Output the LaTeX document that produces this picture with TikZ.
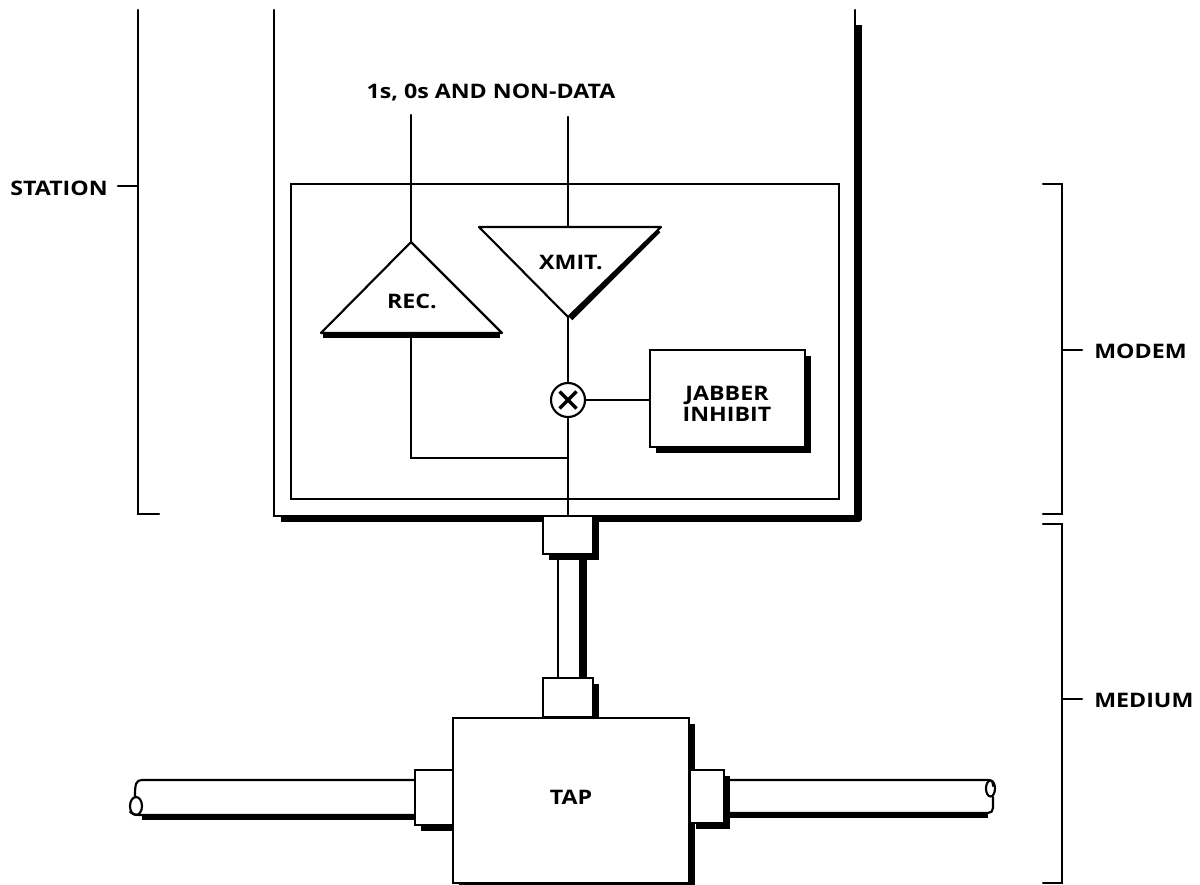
\documentclass[tikz,border=0pt]{standalone}
\usepackage{fontspec}
\setmainfont[FakeStretch=1.16]{Open Sans}
\usetikzlibrary{shadows}
\tikzset{
  wire/.style={line width=1.6pt,line cap=round},
  heavy/.style={line width=4.4pt,line join=round},
  label/.style={font=\fontsize{15}{15.75}\selectfont\bfseries,inner sep=0pt},
  shadebox/.style={draw,line width=1.6pt,fill=white,inner sep=0pt,
    drop shadow={shadow xshift=4.5pt,shadow yshift=-4.5pt,opacity=1,fill=black}}
}

\begin{document}
\begin{tikzpicture}[x=0.75pt,y=-0.75pt]
    \useasboundingbox (0,0) rectangle (1200,885);
    % station housing, open at the top
    \draw[line width=5.2pt,line join=round] (858.5,25) -- (858.5,519) -- (281,519);
    \draw[wire] (274,10) -- (274,516) -- (855,516) -- (855,10);
    \draw[wire] (291,184) rectangle (839,499);
    % brackets and their labels
    \draw[wire] (138,10) -- (138,514) -- (159,514);
    \coordinate (stationtick) at (118,186);
    \draw[wire] (stationtick) -- (138,186);
    \node[label,anchor=east] (station) at (108,188) {STATION};
    \foreach \name/\top/\bot/\mid/\txt in {
      modem/184/514/350/MODEM,
      medium/524/883/699/MEDIUM}{
      \draw[wire] (1043,\top) -- (1062,\top) -- (1062,\bot) -- (1043,\bot);
      \coordinate (\name tick) at (1082,\mid);
      \draw[wire] (1062,\mid) -- (\name tick);
      \node[label,anchor=west] (\name) at (1094,\mid+1) {\txt};
    }
    \node[label] (data) at (491,93) {1s, 0s AND NON-DATA};
    % amplifiers
    \coordinate (recin) at (411,115);
    \coordinate (recapex) at (411,242);
    \coordinate (recout) at (411,333);
    \coordinate (xmitin) at (568,117);
    \coordinate (xmittop) at (568,227);
    \coordinate (xmitapex) at (568,317);
    \coordinate (join) at (568,458);
    \coordinate (base) at (568,516);
    \draw[heavy] (323,335) -- (500,335);
    \draw[wire,line join=round,fill=white] (recapex) -- (502,333) -- (321,333) -- cycle;
    \draw[line width=5pt,line join=round] (658,230) -- (570,318);
    \draw[wire,line join=round,fill=white] (479,227) -- (661,227) -- (xmitapex) -- cycle;
    \node[label] (rec) at (412,301) {REC.};
    \node[label] (xmit) at (571,262) {XMIT.};
    \node[shadebox,minimum width=155*0.75pt,minimum height=97*0.75pt] (jabber) at (727.5,398.5) {};
    \node[label,align=center] (jabbertxt) at (727,404) {JABBER\\INHIBIT};
    \node[draw,circle,line width=1.6pt,fill=white,minimum size=34*0.75pt,inner sep=0pt] (mix) at (568,400) {};
    \draw[line width=2.4pt] (559.5,391.5) -- (576.5,408.5) (576.5,391.5) -- (559.5,408.5);
    % signal paths
    \draw[wire] (recin) -- (recapex);
    \draw[wire] (xmitin) -- (xmittop);
    \draw[wire] (xmitapex) -- (mix);
    \draw[wire] (mix) -- (base);
    \draw[wire] (mix) -- (mix -| jabber.west);
    \draw[wire] (recout) |- (join);
    % drop cable
    \draw[wire] (558,554) -- (558,678);
    \draw[line width=6pt] (582.5,554) -- (582.5,678);
    \node[shadebox,minimum width=50*0.75pt,minimum height=38*0.75pt] (dropup) at (568,535) {};
    \node[shadebox,minimum width=50*0.75pt,minimum height=39*0.75pt] (dropdown) at (568,697.5) {};
    % main cable
    \draw[heavy] (142,817) -- (415,817);
    \draw[wire] (415,780) -- (142,780) .. controls (136,780) and (135,784) .. (135,796);
    \draw[wire] (130,812) .. controls (134,815) and (137,815) .. (142,815) -- (415,815);
    \draw[wire] (136,806) ellipse (6 and 9);
    \draw[heavy] (728,815) -- (988,815);
    \draw[wire] (725,780) -- (988,780) .. controls (992,780) and (993,782) .. (993,786);
    \draw[wire] (993,797) -- (993,808) .. controls (993,811) and (991,813) .. (988,813) -- (725,813);
    \draw[wire] (990.5,788.5) ellipse (4.5 and 8);
    \node[shadebox,minimum width=38*0.75pt,minimum height=55*0.75pt] (portleft) at (434,797.5) {};
    % tap
    \node[shadebox,minimum width=236*0.75pt,minimum height=165*0.75pt] (tap) at (571,800.5) {};
    \node[label] (taptxt) at (571,797) {TAP};
    \node[shadebox,minimum width=34*0.75pt,minimum height=53*0.75pt] (portright) at (707,796.5) {};
  \end{tikzpicture}
\end{document}
